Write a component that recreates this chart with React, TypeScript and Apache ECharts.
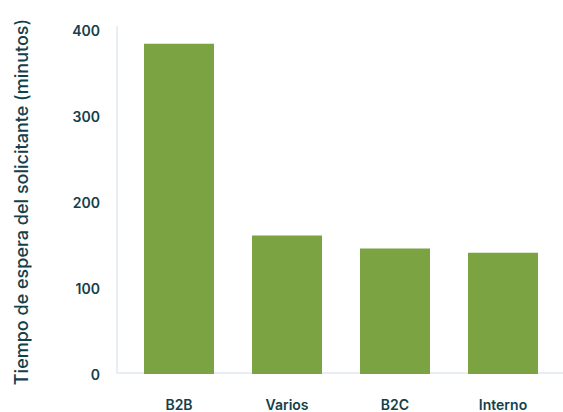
import React, { useEffect, useRef } from "react";
import * as echarts from "echarts";

const categories = ["B2B", "Varios", "B2C", "Interno"];
const waitMinutes = [384, 161, 146, 141];
const yTicks = [0, 100, 200, 300, 400];

export default function App() {
  const ref = useRef<HTMLDivElement>(null);
  useEffect(() => {
    if (!ref.current) return;
    const chart = echarts.init(ref.current, null, { renderer: "svg" });
    const textColor = "#13404a";
    const font = "Inter, 'Noto Sans', sans-serif";
    chart.setOption({
      animation: false,
      grid: { left: 125, right: 6, top: 30, bottom: 38 },
      graphic: [
        { type: "line", shape: { x1: 117, y1: 26, x2: 117, y2: 374 }, style: { stroke: "#e8eef4", lineWidth: 2 }, z: 0 },
        { type: "line", shape: { x1: 117, y1: 373, x2: 563, y2: 373 }, style: { stroke: "#e8eef4", lineWidth: 2 }, z: 0 },
      ],
      xAxis: {
        type: "category",
        data: categories,
        axisLine: { show: false },
        axisTick: { show: false },
        axisLabel: { color: textColor, fontFamily: font, fontSize: 14, fontWeight: 600, margin: 23 },
      },
      yAxis: {
        type: "value",
        min: yTicks[0],
        max: yTicks[yTicks.length - 1],
        interval: 100,
        name: "Tiempo de espera del solicitante (minutos)",
        nameLocation: "middle",
        nameGap: 95,
        nameTextStyle: { color: textColor, fontFamily: font, fontSize: 18, fontWeight: 500 },
        splitLine: { show: false },
        axisLine: { show: false },
        axisTick: { show: false },
        axisLabel: { color: textColor, fontFamily: font, fontSize: 14, fontWeight: 600, margin: 25 },
      },
      series: [
        {
          type: "bar",
          data: waitMinutes,
          barWidth: 70,
          itemStyle: { color: "#7ba342" },
        },
      ],
    });
    return () => chart.dispose();
  }, []);
  return <div ref={ref} style={{ width: 563, height: 412, position: "absolute", left: 0, top: 0 }} />;
}
